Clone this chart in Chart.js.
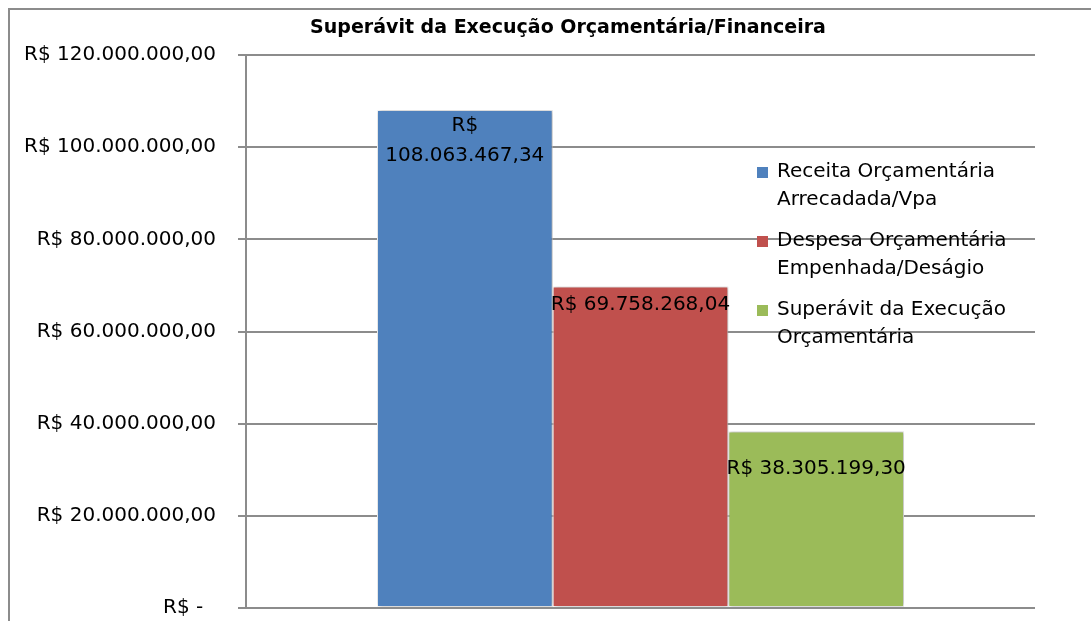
<!DOCTYPE html>
<html>
<head>
<meta charset="utf-8">
<script src="https://cdn.jsdelivr.net/npm/chart.js@4.4.1/dist/chart.umd.min.js"></script>
<style>
  html, body { margin: 0; padding: 0; background: #fff; }
  #wrap { width: 1091px; height: 621px; }
</style>
</head>
<body>
<div id="wrap"><canvas id="chart" width="1091" height="621"></canvas></div>
<script>
// Dados do gráfico
const chartTitle = 'Superávit da Execução Orçamentária/Financeira';
const categories = [''];
const seriesNames = [
    'Receita Orçamentária Arrecadada/Vpa',
    'Despesa Orçamentária Empenhada/Deságio',
    'Superávit da Execução Orçamentária'
];
const legendLines = [
    ['Receita Orçamentária', 'Arrecadada/Vpa'],
    ['Despesa Orçamentária', 'Empenhada/Deságio'],
    ['Superávit da Execução', 'Orçamentária']
];
const seriesValues = [108063467.34, 69758268.04, 38305199.30];
const seriesColors = ['#4f81bd', '#c0504d', '#9bbb59'];
const yTickValues = [0, 20000000, 40000000, 60000000, 80000000, 100000000, 120000000];
const yTickLabels = ['R$ -  ', 'R$ 20.000.000,00', 'R$ 40.000.000,00', 'R$ 60.000.000,00',
                     'R$ 80.000.000,00', 'R$ 100.000.000,00', 'R$ 120.000.000,00'];

const FONT = '"DejaVu Sans", Verdana, sans-serif';

// formata em reais (pt-BR)
function formatBRL(v) {
    const parts = v.toFixed(2).split('.');
    const inteiro = parts[0].replace(/\B(?=(\d{3})+(?!\d))/g, '.');
    return 'R$ ' + inteiro + ',' + parts[1];
}

// moldura, título e legenda desenhados à mão (a legenda fica sobre a área do gráfico)
const framePlugin = {
    id: 'frame',
    beforeDraw(chart) {
        const ctx = chart.ctx;
        ctx.save();
        ctx.fillStyle = '#fff';
        ctx.fillRect(0, 0, chart.width, chart.height);
        ctx.strokeStyle = '#8c8c8c';
        ctx.lineWidth = 2;
        ctx.beginPath();
        ctx.moveTo(9, chart.height);
        ctx.lineTo(9, 9);
        ctx.lineTo(chart.width, 9);
        ctx.stroke();
        ctx.restore();
    },
    afterDraw(chart) {
        const ctx = chart.ctx;
        ctx.save();
        ctx.fillStyle = '#000';
        ctx.font = 'bold 19px ' + FONT;
        ctx.textAlign = 'center';
        ctx.textBaseline = 'middle';
        ctx.fillText(chartTitle, 568, 28);

        ctx.font = '20px ' + FONT;
        ctx.textAlign = 'left';
        const tops = [172, 241, 310];
        legendLines.forEach((lines, i) => {
            ctx.fillStyle = seriesColors[i];
            ctx.fillRect(757, tops[i] - 5, 11, 11);
            ctx.fillStyle = '#000';
            lines.forEach((t, j) => ctx.fillText(t, 777, tops[i] + j * 28));
        });
        ctx.restore();
    }
};

// sombra clara em volta das barras
const shadowPlugin = {
    id: 'barShadow',
    beforeDatasetsDraw(chart) {
        const ctx = chart.ctx;
        ctx.save();
        ctx.shadowColor = 'rgba(0,0,0,0.35)';
        ctx.shadowBlur = 4;
        ctx.shadowOffsetX = 1;
        ctx.shadowOffsetY = 0;
    },
    afterDatasetsDraw(chart) {
        chart.ctx.restore();
    }
};

// rótulos de valor dentro das barras
const labelOffsets = [16, 18, 37];
const valueLabelPlugin = {
    id: 'valueLabels',
    afterDatasetsDraw(chart) {
        const ctx = chart.ctx;
        ctx.save();
        ctx.font = '20px ' + FONT;
        ctx.fillStyle = '#000';
        ctx.textAlign = 'center';
        ctx.textBaseline = 'middle';
        chart.data.datasets.forEach((ds, i) => {
            const bar = chart.getDatasetMeta(i).data[0];
            const text = formatBRL(ds.data[0]);
            let lines = [text];
            if (ctx.measureText(text).width > bar.width + 12) {
                const k = text.indexOf(' ');
                lines = [text.slice(0, k), text.slice(k + 1)];
            }
            lines.forEach((t, j) => ctx.fillText(t, bar.x, bar.y + labelOffsets[i] + j * 30));
        });
        ctx.restore();
    }
};

new Chart(document.getElementById('chart').getContext('2d'), {
    type: 'bar',
    data: {
        labels: categories,
        datasets: seriesNames.map((name, i) => ({
            label: name,
            data: [seriesValues[i]],
            backgroundColor: seriesColors[i],
            borderColor: '#ffffff',
            borderWidth: 1,
            borderSkipped: false,
            categoryPercentage: 0.668,
            barPercentage: 1.0
        }))
    },
    options: {
        responsive: false,
        animation: false,
        layout: { padding: { top: 55, right: 56, bottom: 13, left: 0 } },
        plugins: {
            legend: { display: false },
            title: { display: false },
            tooltip: { enabled: false }
        },
        scales: {
            x: {
                display: false
            },
            y: {
                min: 0,
                max: 120000000,
                afterFit(scale) {
                    scale.width = 246;
                    scale.paddingTop = 0;
                    scale.paddingBottom = 0;
                },
                afterBuildTicks(scale) {
                    scale.ticks = yTickValues.map(v => ({ value: v }));
                },
                ticks: {
                    padding: 22,
                    color: '#000',
                    font: { family: FONT, size: 20 },
                    callback: (v) => yTickLabels[yTickValues.indexOf(v)]
                },
                grid: {
                    color: '#8c8c8c',
                    lineWidth: 2,
                    tickLength: 8,
                    drawTicks: true
                },
                border: { color: '#8c8c8c', width: 2 }
            }
        }
    },
    plugins: [framePlugin, shadowPlugin, valueLabelPlugin]
});
</script>
</body>
</html>
